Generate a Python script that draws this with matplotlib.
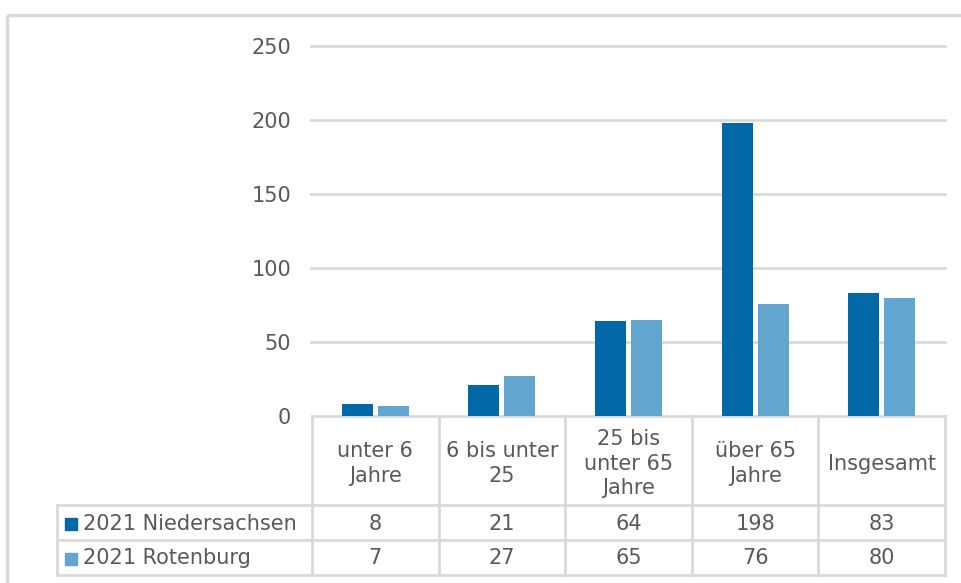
import matplotlib
matplotlib.use("Agg")
import matplotlib.pyplot as plt
import numpy as np

# Data
categories = ["unter 6\nJahre", "6 bis unter\n25", "25 bis\nunter 65\nJahre", "über 65\nJahre", "Insgesamt"]
series_names = ["2021 Niedersachsen", "2021 Rotenburg"]
niedersachsen = [8, 21, 64, 198, 83]
rotenburg = [7, 27, 65, 76, 80]
y_ticks = [0, 50, 100, 150, 200, 250]

COLORS = ["#0068A6", "#62A5CE"]
TEXT = "#595959"
LINE = "#D9D9D9"
FS = 15

W, H = 962, 583
fig = plt.figure(figsize=(W / 100, H / 100), dpi=100)

# pixel-space overlay for frame + data table
ov = fig.add_axes([0, 0, 1, 1])
ov.set_xlim(0, W)
ov.set_ylim(H, 0)
ov.axis("off")

# plot area geometry (pixels)
x0, x1 = 312, 945
y_top, y_base = 46, 416
row1, row2, row3 = 505, 540, 575
leg_x = 57

# outer chart frame
ov.plot([7, 7], [15, H], color=LINE, lw=2.5, solid_capstyle="butt")
ov.plot([7, W], [15, 15], color=LINE, lw=2.5, solid_capstyle="butt")

ax = fig.add_axes([x0 / W, 1 - y_base / H, (x1 - x0) / W, (y_base - y_top) / H])
ax.set_facecolor("none")
n = len(categories)
x = np.arange(n)
bw = 0.245
off = 0.142
ax.bar(x - off, niedersachsen, width=bw, color=COLORS[0], zorder=3)
ax.bar(x + off, rotenburg, width=bw, color=COLORS[1], zorder=3)
ax.set_xlim(-0.5, n - 0.5)
ax.set_ylim(0, 250)
ax.set_yticks(y_ticks)
ax.set_yticklabels([str(t) for t in y_ticks], color=TEXT, fontsize=FS)
ax.tick_params(axis="y", length=0, pad=15)
ax.set_xticks([])
for s in ax.spines.values():
    s.set_visible(False)
for t in y_ticks[1:]:
    ax.plot([-0.51, n - 0.5], [t, t], color=LINE, lw=2, zorder=1, clip_on=False)

# data table
cell_w = (x1 - x0) / n
xs = [x0 + i * cell_w for i in range(n + 1)]
for xv in xs:
    ov.plot([xv, xv], [y_base, row3], color=LINE, lw=2)
ov.plot([x0, x1], [y_base, y_base], color=LINE, lw=2)
for yv in (row1, row2, row3):
    ov.plot([leg_x, x1], [yv, yv], color=LINE, lw=2)
ov.plot([leg_x, leg_x], [row1, row3], color=LINE, lw=2)

for i, cat in enumerate(categories):
    cx = x0 + (i + 0.5) * cell_w
    ov.text(cx, (y_base + row1) / 2 + 3, cat, ha="center", va="center",
            fontsize=FS, color=TEXT, linespacing=1.28)
    ov.text(cx, (row1 + row2) / 2 + 1, str(niedersachsen[i]), ha="center", va="center",
            fontsize=FS, color=TEXT)
    ov.text(cx, (row2 + row3) / 2 + 1, str(rotenburg[i]), ha="center", va="center",
            fontsize=FS, color=TEXT)

for j, (name, col) in enumerate(zip(series_names, COLORS)):
    yc = (row1 + row2) / 2 if j == 0 else (row2 + row3) / 2
    ov.add_patch(plt.Rectangle((65, yc - 5), 12, 12, color=col))
    ov.text(83, yc + 1, name, ha="left", va="center", fontsize=FS, color=TEXT)

fig.savefig("out.png", dpi=100)
